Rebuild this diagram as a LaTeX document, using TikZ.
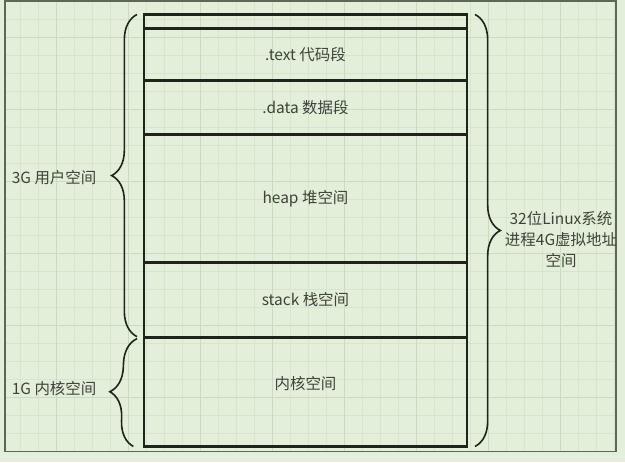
\documentclass[tikz,border=0pt]{standalone}
\usepackage{fontspec}
\setmainfont{Noto Sans CJK SC}
\usetikzlibrary{decorations.pathreplacing}
\definecolor{paper}{HTML}{E3EFDA}
\definecolor{gridc}{HTML}{D6E6CD}
\definecolor{gridm}{HTML}{C9DCBF}
\definecolor{ink}{HTML}{1E231C}
\definecolor{txt}{HTML}{3E423C}
\definecolor{frame}{HTML}{5C6857}
\begin{document}
\begin{tikzpicture}[x=0.75pt, y=-0.75pt,
    seg/.style={rectangle, draw=ink, line width=1.6pt, minimum width=242.25pt, inner sep=0pt, outer sep=0pt, text=txt},
    lbl/.style={text=txt, inner sep=1pt},
    brc/.style={draw=ink, line width=1.2pt, decorate, decoration={brace, amplitude=19pt}},
    every node/.style={font=\fontsize{11.6pt}{15.8pt}\selectfont}]
    % --- background, grid and frame ---
    \fill[paper] (0,0) rectangle (625,462);
    \begin{scope}[shift={(56,37)}]
      \draw[gridc, line width=0.5pt, step=13.5pt] (-51,-37) grid (560,414);
      \draw[gridm, line width=0.7pt, step=54pt] (-51,-37) grid (560,414);
    \end{scope}
    \draw[frame, line width=1.1pt] (5,0.5) rectangle (616,451);
    \useasboundingbox (0,0) rectangle (625,462);

    % --- segments of the address space ---
    \node[seg, minimum height=10.5pt] (top) at (305.5,21) {};
    \node[seg, minimum height=39pt] (text) at (305.5,54) {.text 代码段};
    \node[seg, minimum height=40.5pt] (data) at (305.5,107) {.data 数据段};
    \node[seg, minimum height=96pt] (heap) at (305.5,198) {heap 堆空间};
    \node[seg, minimum height=56.25pt] (stack) at (305.5,299.5) {stack 栈空间};
    \node[seg, minimum height=81.75pt] (kernel) at (305.5,391.5) {};
    \node[lbl] (klab) at (305.5,383) {内核空间};

    % --- braces ---
    \coordinate (u1) at ([xshift=-5.25pt, yshift=0.6pt]stack.south west);
    \coordinate (u2) at ([xshift=-5.25pt]top.north west);
    \coordinate (k1) at ([xshift=-8pt]kernel.south west);
    \coordinate (k2) at ([xshift=-5.25pt, yshift=-0.9pt]kernel.north west);
    \coordinate (r1) at ([xshift=6pt]top.north east);
    \coordinate (r2) at ([xshift=6pt]kernel.south east);
    \draw[brc] (u1) -- (u2);
    \draw[brc] (k1) -- (k2);
    \draw[brc] (r1) -- (r2);

    % --- labels ---
    \node[lbl, anchor=east] (ulab) at (98,177) {3G 用户空间};
    \node[lbl, anchor=east] (kl) at (98,388) {1G 内核空间};
    \node[lbl, align=center] (rlab) at (561,239) {32位Linux系统\\进程4G虚拟地址\\空间};
\end{tikzpicture}
\end{document}
